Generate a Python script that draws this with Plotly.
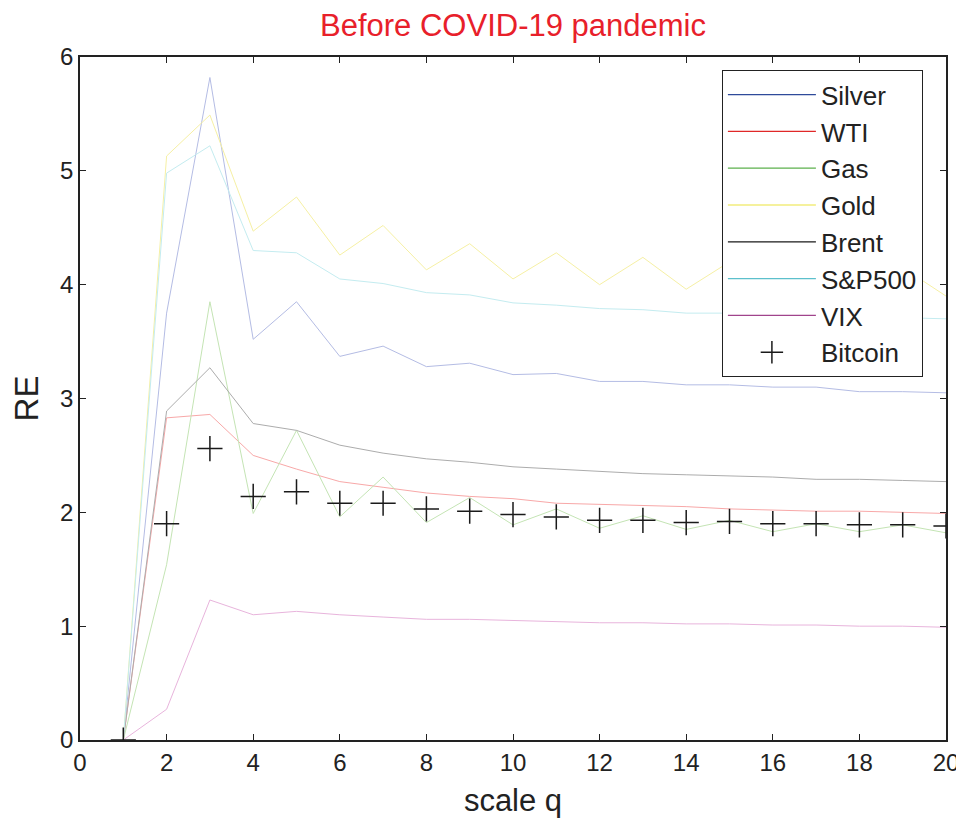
import plotly.graph_objects as go

q = list(range(1, 21))

silver = [0, 3.75, 5.82, 3.52, 3.85, 3.37, 3.46, 3.28, 3.31, 3.21, 3.22, 3.15, 3.15, 3.12, 3.12, 3.10, 3.10, 3.06, 3.06, 3.05]
wti = [0, 2.83, 2.86, 2.50, 2.38, 2.27, 2.22, 2.17, 2.14, 2.12, 2.08, 2.07, 2.06, 2.05, 2.03, 2.02, 2.01, 2.01, 2.00, 1.99]
gas = [0, 1.54, 3.85, 1.99, 2.72, 1.96, 2.31, 1.91, 2.13, 1.89, 2.03, 1.86, 1.97, 1.85, 1.93, 1.83, 1.90, 1.83, 1.89, 1.82]
gold = [0, 5.13, 5.49, 4.47, 4.77, 4.26, 4.52, 4.13, 4.36, 4.05, 4.28, 4.00, 4.24, 3.96, 4.20, 3.94, 4.18, 3.92, 4.15, 3.90]
brent = [0, 2.89, 3.27, 2.78, 2.72, 2.59, 2.52, 2.47, 2.44, 2.40, 2.38, 2.36, 2.34, 2.33, 2.32, 2.31, 2.29, 2.29, 2.28, 2.27]
sp500 = [0, 4.98, 5.22, 4.30, 4.28, 4.05, 4.01, 3.93, 3.91, 3.84, 3.82, 3.79, 3.78, 3.75, 3.75, 3.74, 3.73, 3.72, 3.71, 3.70]
vix = [0, 0.27, 1.23, 1.10, 1.13, 1.10, 1.08, 1.06, 1.06, 1.05, 1.04, 1.03, 1.03, 1.02, 1.02, 1.01, 1.01, 1.00, 1.00, 0.99]
bitcoin = [0, 1.90, 2.56, 2.14, 2.18, 2.08, 2.08, 2.03, 2.01, 1.98, 1.96, 1.93, 1.93, 1.91, 1.92, 1.90, 1.90, 1.89, 1.89, 1.88]

names = ["Silver", "WTI", "Gas", "Gold", "Brent", "S&P500", "VIX"]
series = [silver, wti, gas, gold, brent, sp500, vix]
full_colors = ["#2e4a9a", "#e02828", "#5cb04c", "#ece43c", "#1a1a1a", "#5cc0cc", "#a0448c"]
faded_colors = ["#b4bce4", "#f8a8a8", "#c4e4b4", "#f6f0a4", "#acacac", "#c4ecf0", "#e8b4dc"]

font = "Liberation Sans, Arial, sans-serif"
fig = go.Figure()

for n, s, fc in zip(names, series, faded_colors):
    fig.add_trace(go.Scatter(x=q, y=s, mode="lines", line=dict(color=fc, width=1),
                             showlegend=False, name=n))

fig.add_trace(go.Scatter(x=q, y=bitcoin, mode="markers", showlegend=False, name="Bitcoin",
                         marker=dict(symbol="cross-thin", size=18, line=dict(color="#1a1a1a", width=1.5))))

# legend entries with full colours
for n, c in zip(names, full_colors):
    fig.add_trace(go.Scatter(x=[None], y=[None], mode="lines", line=dict(color=c, width=1.2), name=n))
fig.add_trace(go.Scatter(x=[None], y=[None], mode="markers", name="Bitcoin",
                         marker=dict(symbol="cross-thin", size=16, line=dict(color="#1a1a1a", width=1.5))))

fig.update_layout(
    width=956, height=813,
    margin=dict(l=72, r=18, t=49, b=81),
    paper_bgcolor="white", plot_bgcolor="white",
    font=dict(family=font, color="#222", size=24),
    title=dict(text="Before COVID-19 pandemic", font=dict(color="#e8202a", size=31, family=font),
               x=0.5, xref="paper", xanchor="center", y=0.979, yanchor="middle"),
    xaxis=dict(range=[0, 20], tickvals=list(range(0, 21, 2)), showline=True, linecolor="#222", linewidth=1.5,
               mirror="ticks", ticks="inside", ticklen=6, tickcolor="#222", showgrid=False, zeroline=False,
               automargin=False,
               title=dict(text="scale q", font=dict(size=31), standoff=15), tickfont=dict(size=24)),
    yaxis=dict(range=[0, 6], tickvals=list(range(0, 7)), showline=True, linecolor="#222", linewidth=1.5,
               mirror="ticks", ticks="inside", ticklen=6, tickcolor="#222", showgrid=False, zeroline=False,
               automargin=False,
               title=dict(text="RE", font=dict(size=33), standoff=16), tickfont=dict(size=24)),
    legend=dict(x=0.741, y=0.981, xanchor="left", yanchor="top", bgcolor="white",
                bordercolor="#222", borderwidth=1.2, font=dict(size=26), tracegroupgap=0,
                itemwidth=88),
)

fig.write_html("out.html")
